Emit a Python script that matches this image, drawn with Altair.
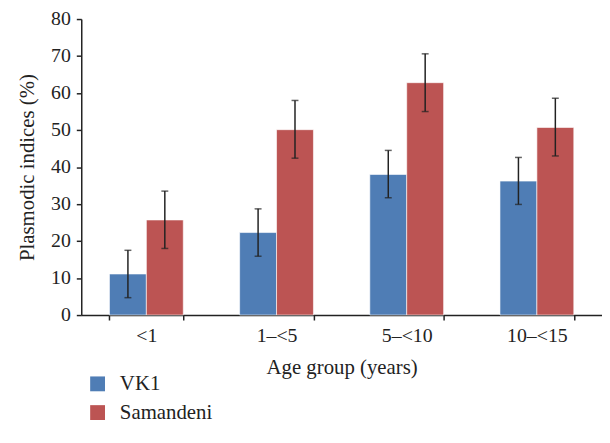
import altair as alt
import pandas as pd

groups = ["<1", "1\u2013<5", "5\u2013<10", "10\u2013<15"]
series = ["VK1", "Samandeni"]
vk1 = [11.1, 22.3, 38.0, 36.2]
vk1_lo = [4.7, 15.9, 31.7, 29.9]
vk1_hi = [17.5, 28.7, 44.5, 42.6]
sam = [25.7, 50.1, 62.8, 50.7]
sam_lo = [18.0, 42.4, 55.0, 43.0]
sam_hi = [33.5, 58.0, 70.6, 58.6]
y_ticks = [0, 10, 20, 30, 40, 50, 60, 70, 80]

rows = []
for i, g in enumerate(groups):
    rows.append(dict(group=g, series="VK1", value=vk1[i], lo=vk1_lo[i], hi=vk1_hi[i]))
    rows.append(dict(group=g, series="Samandeni", value=sam[i], lo=sam_lo[i], hi=sam_hi[i]))
df = pd.DataFrame(rows)

FONT = "Liberation Serif"

x = alt.X("group:N", sort=groups,
          scale=alt.Scale(paddingInner=0.433, paddingOuter=0.2167),
          axis=alt.Axis(title="Age group (years)", labelAngle=0, tickBand="extent",
                        labelPadding=6, titlePadding=11))
xoff = alt.XOffset("series:N", sort=series, scale=alt.Scale(paddingInner=0, paddingOuter=0))
yaxis = alt.Axis(title="Plasmodic indices (%)", values=y_ticks, labelOverlap=False,
                 grid=False, titlePadding=13, labelPadding=6)
yscale = alt.Scale(domain=[0, 80])
color = alt.Color("series:N", sort=series,
                  scale=alt.Scale(domain=series, range=["#4F7DB5", "#BC5453"]),
                  legend=alt.Legend(title=None, orient="none", legendX=6, legendY=358,
                                    direction="vertical", symbolType="square",
                                    symbolSize=225, symbolStrokeWidth=0,
                                    labelFontSize=21, labelFont=FONT, labelColor="#222",
                                    rowPadding=7, labelOffset=12))

bars = alt.Chart(df).mark_bar(stroke="white", strokeWidth=1, strokeOpacity=0.6).encode(
    x=x, xOffset=xoff,
    y=alt.Y("value:Q", scale=yscale, axis=yaxis),
    color=color,
)
rules = alt.Chart(df).mark_rule(color="#222", strokeWidth=1.5).encode(
    x=x, xOffset=xoff, y=alt.Y("lo:Q", scale=yscale, axis=yaxis), y2="hi:Q")
cap_lo = alt.Chart(df).mark_tick(color="#222", size=7, thickness=1.5).encode(
    x=x, xOffset=xoff, y=alt.Y("lo:Q", scale=yscale, axis=yaxis))
cap_hi = alt.Chart(df).mark_tick(color="#222", size=7, thickness=1.5).encode(
    x=x, xOffset=xoff, y=alt.Y("hi:Q", scale=yscale, axis=yaxis))

chart = alt.layer(bars, rules, cap_lo, cap_hi).properties(
    width=526, height=299,
    autosize=alt.AutoSizeParams(type="none"),
    padding={"left": 74, "top": 9, "right": 0, "bottom": 120},
).configure_view(stroke=None).configure_axis(
    labelFont=FONT, titleFont=FONT, labelFontSize=20, titleFontSize=21,
    labelColor="#222", titleColor="#222", titleFontWeight="normal",
    domainColor="#222", tickColor="#222", domainWidth=1.5, tickWidth=1.5, tickSize=5,
)

chart.save("out.html", embed_options={"renderer": "svg", "actions": False})
